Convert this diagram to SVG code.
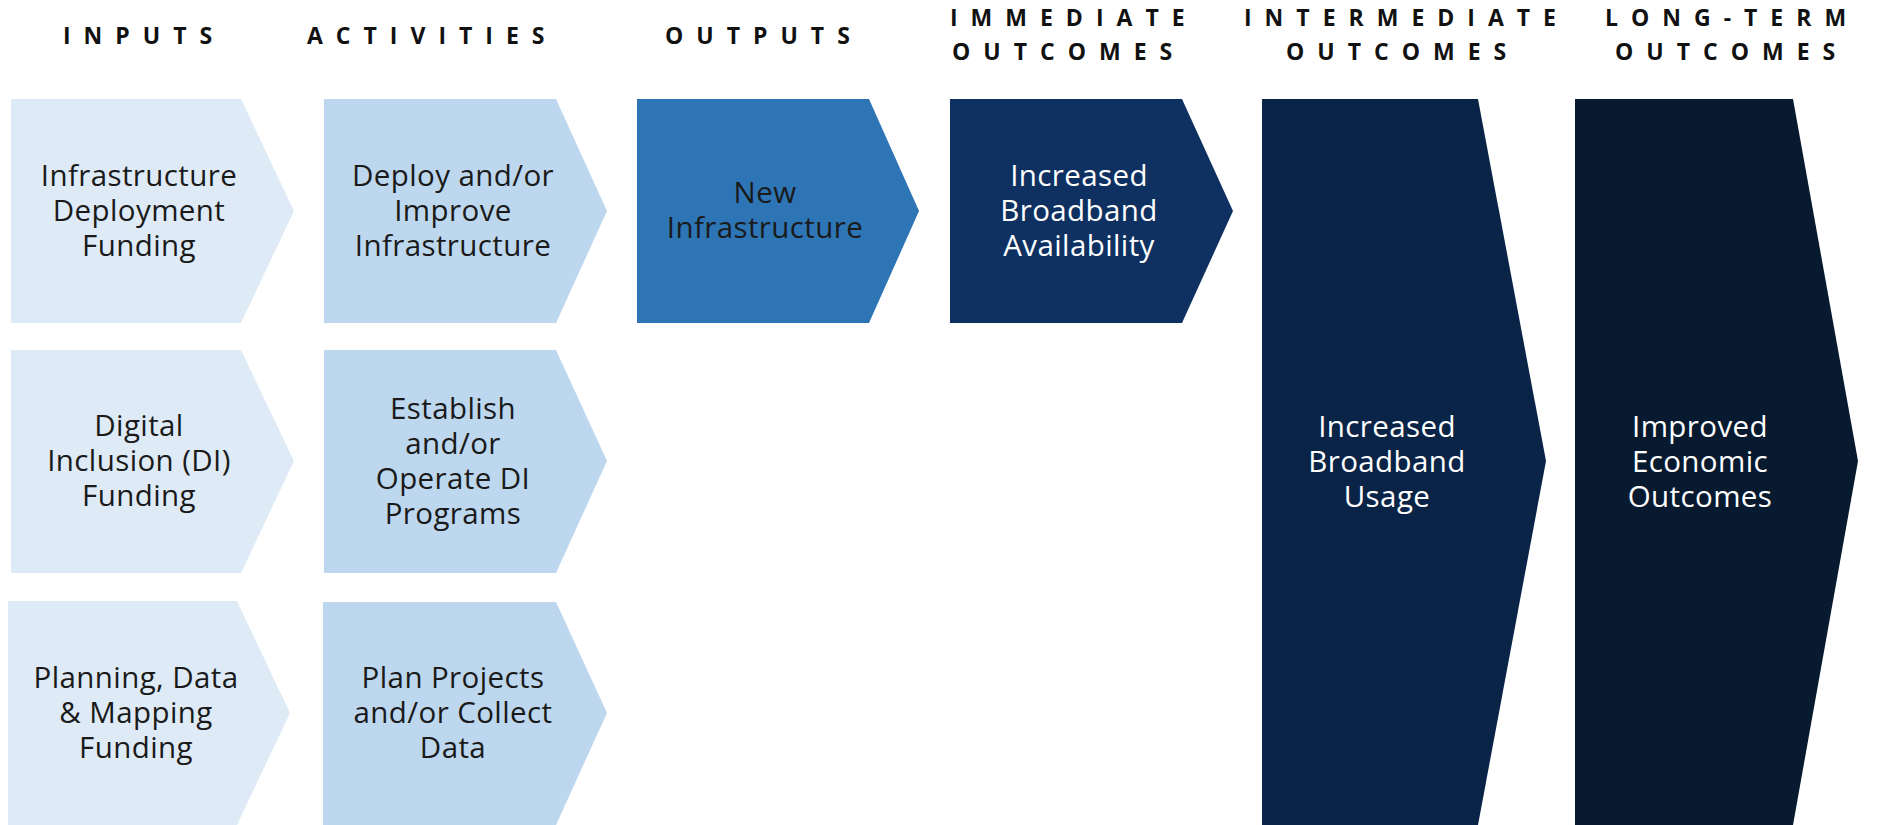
<svg xmlns="http://www.w3.org/2000/svg" width="1897" height="825" viewBox="0 0 1897 825">
<style>
.hd{font-family:"Open Sans","Liberation Sans",sans-serif;font-weight:700;font-size:23px;letter-spacing:13px;fill:#111}
.lb{font-family:"Open Sans","Liberation Sans",sans-serif;font-size:29.5px;letter-spacing:0.4px;text-anchor:middle}
.dk{fill:#1a1a1a}
.wt{fill:#ffffff}
.in{fill:#deebf7}
.ac{fill:#bdd7ee}
.op{fill:#2e75b6}
.im{fill:#0e3162}
.it{fill:#0a2448}
.lt{fill:#081a30}
</style>
<rect width="1897" height="825" fill="#ffffff"/>
<g id="headers">
<text class="hd" x="63" y="44">INPUTS</text>
<text class="hd" x="307" y="44">ACTIVITIES</text>
<text class="hd" x="665" y="44">OUTPUTS</text>
<text class="hd" x="950" y="26">IMMEDIATE</text>
<text class="hd" x="952" y="60">OUTCOMES</text>
<text class="hd" x="1244" y="26">INTERMEDIATE</text>
<text class="hd" x="1286" y="60">OUTCOMES</text>
<text class="hd" x="1605" y="26">LONG-TERM</text>
<text class="hd" x="1615" y="60">OUTCOMES</text>
</g>
<g id="connectors"></g>
<g id="input-infrastructure">
<polygon class="in" points="11,99 241,99 294,211 241,323 11,323"/>
<text class="lb dk" x="139" y="186">Infrastructure<tspan x="139" dy="35">Deployment</tspan><tspan x="139" dy="35">Funding</tspan></text>
</g>
<g id="input-di">
<polygon class="in" points="11,350 241,350 294,461 241,573 11,573"/>
<text class="lb dk" x="139" y="436">Digital<tspan x="139" dy="35">Inclusion (DI)</tspan><tspan x="139" dy="35">Funding</tspan></text>
</g>
<g id="input-planning">
<polygon class="in" points="8,601 237,601 290,713 237,825 8,825"/>
<text class="lb dk" x="136" y="688">Planning, Data<tspan x="136" dy="35">&amp; Mapping</tspan><tspan x="136" dy="35">Funding</tspan></text>
</g>
<g id="activity-deploy">
<polygon class="ac" points="324,99 556,99 607,211 556,323 324,323"/>
<text class="lb dk" x="453" y="186">Deploy and/or<tspan x="453" dy="35">Improve</tspan><tspan x="453" dy="35">Infrastructure</tspan></text>
</g>
<g id="activity-di">
<polygon class="ac" points="324,350 556,350 607,461 556,573 324,573"/>
<text class="lb dk" x="453" y="419">Establish<tspan x="453" dy="35">and/or</tspan><tspan x="453" dy="35">Operate DI</tspan><tspan x="453" dy="35">Programs</tspan></text>
</g>
<g id="activity-plan">
<polygon class="ac" points="323,602 556,602 607,713 556,825 323,825"/>
<text class="lb dk" x="453" y="688">Plan Projects<tspan x="453" dy="35">and/or Collect</tspan><tspan x="453" dy="35">Data</tspan></text>
</g>
<g id="output-infrastructure">
<polygon class="op" points="637,99 869,99 919,211 869,323 637,323"/>
<text class="lb dk" x="765" y="203">New<tspan x="765" dy="35">Infrastructure</tspan></text>
</g>
<g id="immediate-availability">
<polygon class="im" points="950,99 1182,99 1233,211 1182,323 950,323"/>
<text class="lb wt" x="1079" y="186">Increased<tspan x="1079" dy="35">Broadband</tspan><tspan x="1079" dy="35">Availability</tspan></text>
</g>
<g id="intermediate-usage">
<polygon class="it" points="1262,99 1478,99 1546,461 1478,825 1262,825"/>
<text class="lb wt" x="1387" y="437">Increased<tspan x="1387" dy="35">Broadband</tspan><tspan x="1387" dy="35">Usage</tspan></text>
</g>
<g id="longterm-economic">
<polygon class="lt" points="1575,99 1793,99 1858,461 1793,825 1575,825"/>
<text class="lb wt" x="1700" y="437">Improved<tspan x="1700" dy="35">Economic</tspan><tspan x="1700" dy="35">Outcomes</tspan></text>
</g>
</svg>
